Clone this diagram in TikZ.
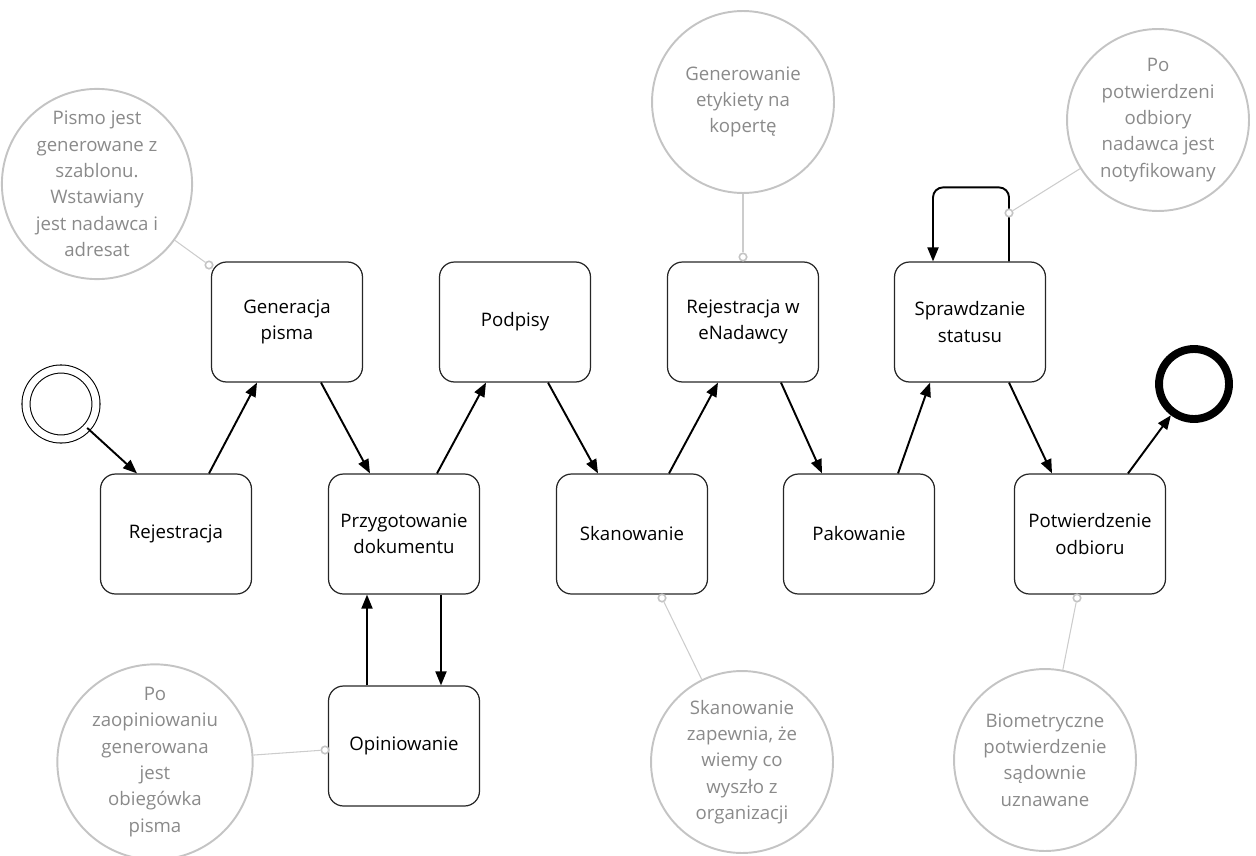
\documentclass[tikz,border=0pt]{standalone}
\usepackage{fontspec}
\setmainfont{Open Sans}
\usepackage{tikz}
\usetikzlibrary{arrows.meta}
\definecolor{notegray}{RGB}{138,138,138}
\definecolor{ringgray}{RGB}{196,196,196}
\definecolor{linkgray}{RGB}{204,204,204}

\begin{document}
\begin{tikzpicture}[x=0.02cm,y=-0.02cm,
  font=\fontsize{10.6}{15}\selectfont,
  task/.style={draw=black!85,line width=0.7pt,rounded corners=0.3cm,
    minimum width=3.02cm,minimum height=2.4cm,align=center,inner sep=2pt},
  note/.style={circle,draw=ringgray,line width=1.1pt,minimum size=3.64cm,
    inner sep=0pt,align=center,text=notegray},
  flow/.style={line width=1.1pt,-{Triangle[length=0.28cm,width=0.22cm]}},
  link/.style={draw=linkgray,line width=0.6pt},
  linkdot/.style={circle,draw=ringgray,fill=white,line width=0.9pt,
    minimum size=0.15cm,inner sep=0pt}]
  \useasboundingbox (0,0) rectangle (1256,855);
  \node[circle,draw,line width=0.6pt,double,double distance=0.14cm,minimum size=1.4cm] (start) at (61,404) {};
  \node[circle,draw,line width=4.5pt,minimum size=1.4cm] (stop) at (1194,384) {};
  \node[task] (rej) at (176,534) {Rejestracja};
  \node[task] (gen) at (287,322) {Generacja\\pisma};
  \node[task] (prz) at (404,534) {Przygotowanie\\dokumentu};
  \node[task] (pod) at (515,322) {Podpisy};
  \node[task] (ska) at (632,534) {Skanowanie};
  \node[task] (ren) at (743,322) {Rejestracja w\\eNadawcy};
  \node[task] (pak) at (859,534) {Pakowanie};
  \node[task] (spr) at (970,322) {Sprawdzanie\\statusu};
  \node[task] (pot) at (1090,534) {Potwierdzenie\\odbioru};
  \node[task] (opi) at (404,746) {Opiniowanie};
  \draw[flow] (start) -- ([shift={(-39,0)}]rej.north);
  \draw[flow] ([shift={(33,0)}]rej.north) -- ([shift={(-30,0)}]gen.south);
  \draw[flow] ([shift={(34,0)}]gen.south) -- ([shift={(-34,0)}]prz.north);
  \draw[flow] ([shift={(33,0)}]prz.north) -- ([shift={(-29,0)}]pod.south);
  \draw[flow] ([shift={(33,0)}]pod.south) -- ([shift={(-34,0)}]ska.north);
  \draw[flow] ([shift={(37,0)}]ska.north) -- ([shift={(-25,0)}]ren.south);
  \draw[flow] ([shift={(38,0)}]ren.south) -- ([shift={(-37,0)}]pak.north);
  \draw[flow] ([shift={(39,0)}]pak.north) -- ([shift={(-40,0)}]spr.south);
  \draw[flow] ([shift={(39,0)}]spr.south) -- ([shift={(-38,0)}]pot.north);
  \draw[flow] ([shift={(38,0)}]pot.north) -- (stop);
  \draw[flow] ([shift={(37,0)}]prz.south) -- ([shift={(37,0)}]opi.north);
  \draw[flow] ([shift={(-37,0)}]opi.north) -- ([shift={(-37,0)}]prz.south);
  \draw[flow,rounded corners=0.2cm] ([shift={(39,0)}]spr.north) -- ++(0,-74) -| ([shift={(-37,0)}]spr.north);
  \node[note] (n1) at (97,184) {Pismo jest\\generowane z\\szablonu.\\Wstawiany\\jest nadawca i\\adresat};
  \node[note] (n2) at (743,102) {Generowanie\\etykiety na\\kopertę};
  \node[note] (n3) at (1158,120) {Po\\potwierdzeni\\odbiory\\nadawca jest\\notyfikowany};
  \node[note] (n4) at (742,762) {Skanowanie\\zapewnia, że\\wiemy co\\wyszło z\\organizacji};
  \node[note] (n5) at (1045,760) {Biometryczne\\potwierdzenie\\sądownie\\uznawane};
  \node[note] (n6) at (155,762) {Po\\zaopiniowaniu\\generowana\\jest\\obiegówka\\pisma};
  \node[linkdot] (d1) at (209,265) {};
  \node[linkdot] (d2) at (743,257) {};
  \node[linkdot] (d3) at (1009,213) {};
  \node[linkdot] (d4) at (662,598) {};
  \node[linkdot] (d5) at (1077,598) {};
  \node[linkdot] (d6) at (325,750) {};
  \draw[link] (n1) -- (d1);
  \draw[link] (n2) -- (d2);
  \draw[link] (n3) -- (d3);
  \draw[link] (n4) -- (d4);
  \draw[link] (n5) -- (d5);
  \draw[link] (n6) -- (d6);
\end{tikzpicture}
\end{document}
